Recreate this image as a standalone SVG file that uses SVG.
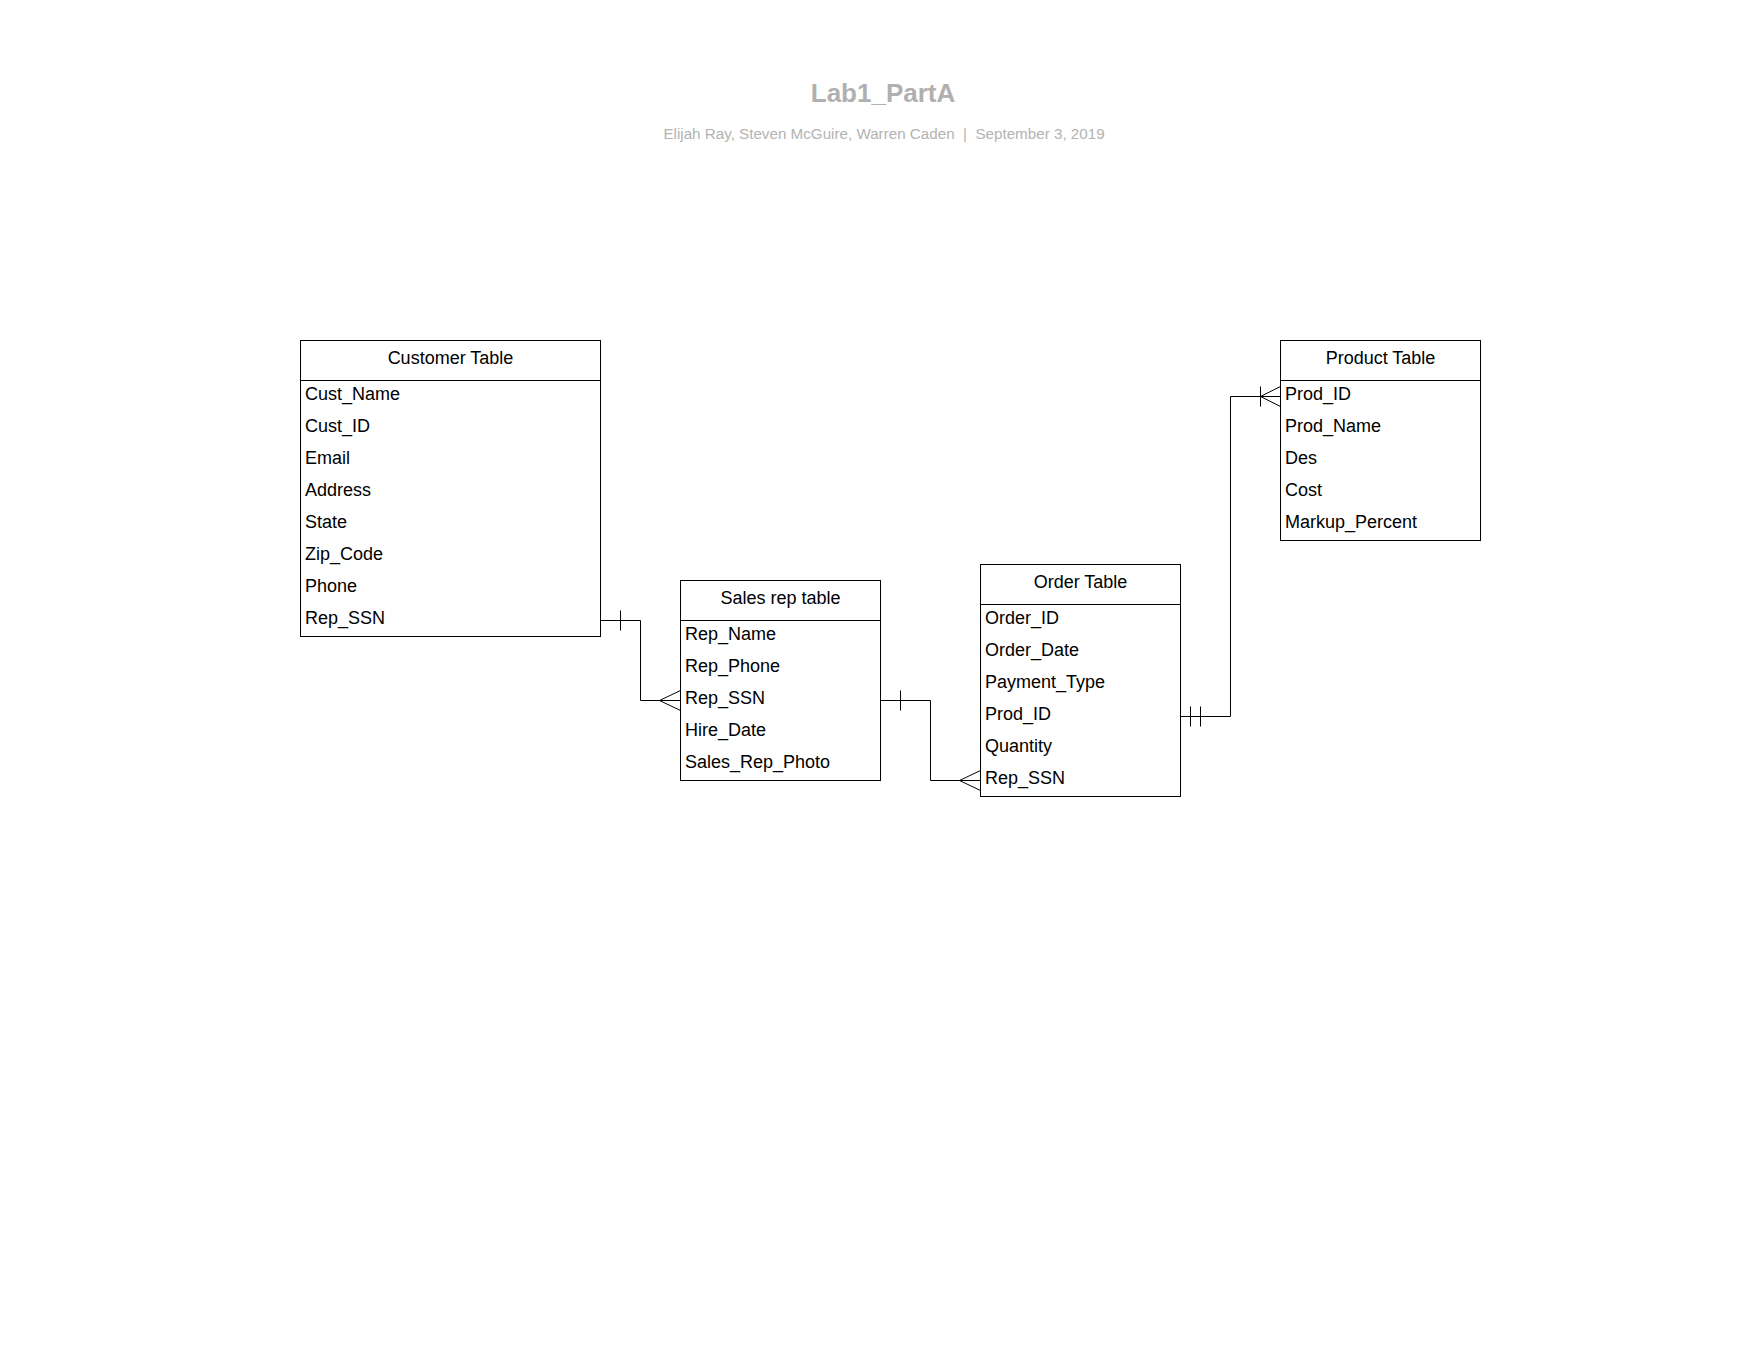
<svg xmlns="http://www.w3.org/2000/svg" width="1760" height="1360" viewBox="0 0 1760 1360">
<style>
.box{fill:#fff;stroke:#000;stroke-width:1}
.div{stroke:#000;stroke-width:1}
.hd{font-family:"Liberation Sans",Arial,sans-serif;font-size:18px;fill:#000;text-anchor:middle}
.f{font-family:"Liberation Sans",Arial,sans-serif;font-size:18px;fill:#000}
.ln{fill:none;stroke:#000;stroke-width:1}
.title{font-family:"Liberation Sans",Arial,sans-serif;font-size:26px;font-weight:bold;fill:#b0b0b0;text-anchor:middle}
.sub{font-family:"Liberation Sans",Arial,sans-serif;font-size:15.2px;fill:#b3b3b3;text-anchor:middle}
</style>
<rect width="1760" height="1360" fill="#fff"/>
<text class="title" x="883" y="102">Lab1_PartA</text>
<text class="sub" x="884" y="139" xml:space="preserve">Elijah Ray, Steven McGuire, Warren Caden  |  September 3, 2019</text>

<g id="customer-table">
<rect class="box" x="300.5" y="340.5" width="300" height="296"/>
<line class="div" x1="300.5" y1="380.5" x2="600.5" y2="380.5"/>
<text class="hd" x="450.5" y="363.5">Customer Table</text>
<text class="f" x="305" y="400">Cust_Name</text>
<text class="f" x="305" y="432">Cust_ID</text>
<text class="f" x="305" y="464">Email</text>
<text class="f" x="305" y="496">Address</text>
<text class="f" x="305" y="528">State</text>
<text class="f" x="305" y="560">Zip_Code</text>
<text class="f" x="305" y="592">Phone</text>
<text class="f" x="305" y="624">Rep_SSN</text>
</g>

<g id="sales-rep-table">
<rect class="box" x="680.5" y="580.5" width="200" height="200"/>
<line class="div" x1="680.5" y1="620.5" x2="880.5" y2="620.5"/>
<text class="hd" x="780.5" y="603.5">Sales rep table</text>
<text class="f" x="685" y="640">Rep_Name</text>
<text class="f" x="685" y="672">Rep_Phone</text>
<text class="f" x="685" y="704">Rep_SSN</text>
<text class="f" x="685" y="736">Hire_Date</text>
<text class="f" x="685" y="768">Sales_Rep_Photo</text>
</g>

<g id="order-table">
<rect class="box" x="980.5" y="564.5" width="200" height="232"/>
<line class="div" x1="980.5" y1="604.5" x2="1180.5" y2="604.5"/>
<text class="hd" x="1080.5" y="587.5">Order Table</text>
<text class="f" x="985" y="624">Order_ID</text>
<text class="f" x="985" y="656">Order_Date</text>
<text class="f" x="985" y="688">Payment_Type</text>
<text class="f" x="985" y="720">Prod_ID</text>
<text class="f" x="985" y="752">Quantity</text>
<text class="f" x="985" y="784">Rep_SSN</text>
</g>

<g id="product-table">
<rect class="box" x="1280.5" y="340.5" width="200" height="200"/>
<line class="div" x1="1280.5" y1="380.5" x2="1480.5" y2="380.5"/>
<text class="hd" x="1380.5" y="363.5">Product Table</text>
<text class="f" x="1285" y="400">Prod_ID</text>
<text class="f" x="1285" y="432">Prod_Name</text>
<text class="f" x="1285" y="464">Des</text>
<text class="f" x="1285" y="496">Cost</text>
<text class="f" x="1285" y="528">Markup_Percent</text>
</g>

<g id="connectors">
<path class="ln" d="M600.5,620.5 H640.5 V700.5 H680.5"/>
<path class="ln" d="M620.5,610.5 V630.5"/>
<path class="ln" d="M680.5,690.5 L659.5,700.5 L680.5,710.5"/>

<path class="ln" d="M880.5,700.5 H930.5 V780.5 H980.5"/>
<path class="ln" d="M900.5,690.5 V710.5"/>
<path class="ln" d="M980.5,770.5 L959.5,780.5 L980.5,790.5"/>

<path class="ln" d="M1180.5,716.5 H1230.5 V396.5 H1280.5"/>
<path class="ln" d="M1190.5,706.5 V726.5 M1200.5,706.5 V726.5"/>
<path class="ln" d="M1260.5,386.5 V406.5"/>
<path class="ln" d="M1280.5,386.5 L1260.5,396.5 L1280.5,406.5"/>
</g>
</svg>
